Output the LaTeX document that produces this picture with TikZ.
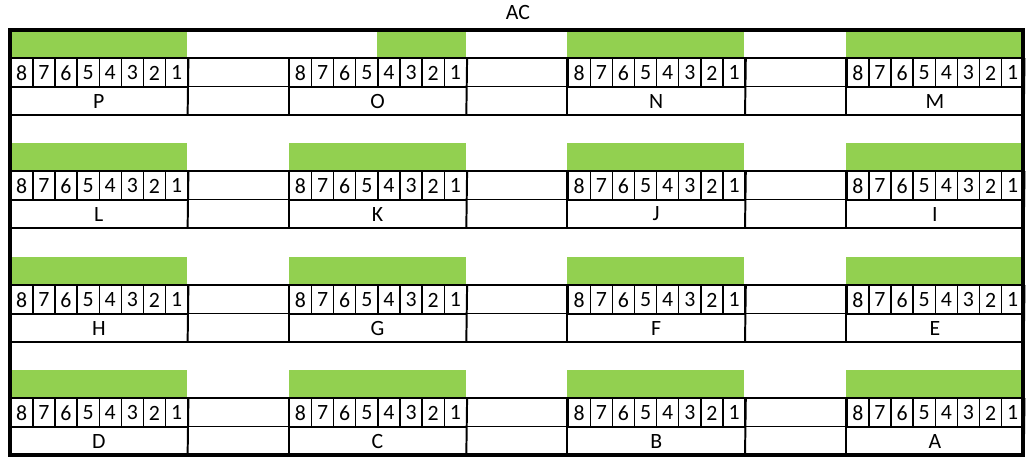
\documentclass[tikz,border=0pt]{standalone}
\usepackage{fontspec}
\setmainfont{Carlito}
\usetikzlibrary{positioning}
\definecolor{bay}{RGB}{146,208,80}
\tikzset{
  rim/.style={line width=2.2pt},
  grid/.style={line width=1.4pt},
  lbl/.style={font=\fontsize{15.5}{17}\selectfont,inner sep=0pt},
  cell/.style={lbl,draw,line width=1pt,minimum width=0.553cm,
    minimum height=0.7125cm,anchor=north west},
  tag/.style={lbl,minimum width=4.425cm,minimum height=0.7125cm,
    anchor=north west},
}
\begin{document}
\begin{tikzpicture}[x=0.025cm,y=-0.025cm]
  \useasboundingbox (0,0) rectangle (1027,459);
  \node[lbl] (title) at (518,13) {AC};
  \foreach \yy/\row in {30/{P/0,O/88.5,N/0,M/0},143/{L/0,K/0,J/0,I/0},
      257/{H/0,G/0,F/0,E/0},370/{D/0,C/0,B/0,A/0}}{
    \foreach \lab/\off [count=\c from 0] in \row{
      \pgfmathsetmacro\lft{10+278.7*\c}
      % green strip
      \fill[bay] (\lft+\off,\yy) rectangle (\lft+177,\yy+28);
      \foreach \d [count=\i from 0] in {8,7,6,5,4,3,2,1}
        \node[cell] (\lab\d) at (\lft+22.125*\i,\yy+28) {\d};
      \node[tag] (\lab) at (\lft,\yy+56.5) {\lab};
      \draw[grid] (\lab8.north west) -- (\lab.south west);
      \draw[grid] (\lab1.north east) -- (\lab.south east);
    }
    \draw[grid] (10,\yy+28) -- (1023,\yy+28);
    \draw[grid] (10,\yy+56.5) -- (1023,\yy+56.5);
    \draw[grid] (10,\yy+85) -- (1023,\yy+85);
  }
  \draw[rim] (10,30) rectangle (1023,455);
\end{tikzpicture}
\end{document}
